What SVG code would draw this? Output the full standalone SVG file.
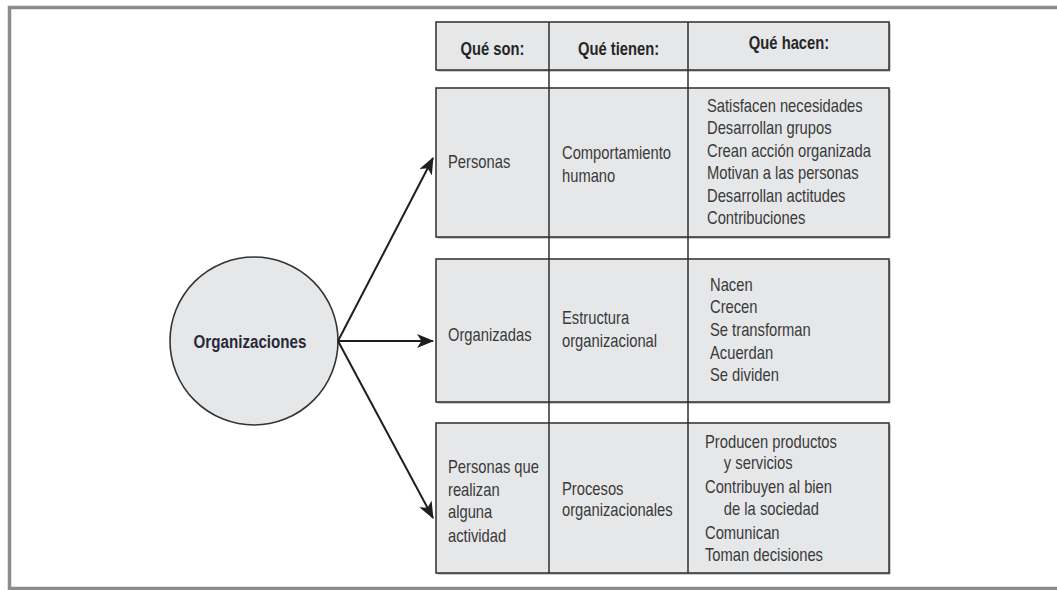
<svg xmlns="http://www.w3.org/2000/svg" width="1057" height="590" viewBox="0 0 1057 590">
  <style>
    .frame { fill: none; stroke: #8c8c8c; stroke-width: 3.5; }
    .box { fill: #e6e7e8; stroke: #3a3a3a; stroke-width: 1.6; }
    .shadow { fill: #9a9a9a; }
    .div { stroke: #2e2e2e; stroke-width: 1.5; fill: none; }
    .hd { font-family: "Liberation Sans", Arial, sans-serif; font-weight: bold; font-size: 18px; fill: #262626; text-anchor: middle; }
    .t { font-family: "Liberation Sans", Arial, sans-serif; font-size: 18px; fill: #3a3a3a; }
    .node { fill: #e6e7e8; stroke: #333; stroke-width: 1.6; }
    .nt { font-family: "Liberation Sans", Arial, sans-serif; font-weight: bold; font-size: 18.5px; fill: #262a3a; text-anchor: middle; }
    .conn { stroke: #1e1e1e; stroke-width: 2; fill: none; marker-end: url(#arrow); }
  </style>
  <defs>
    <marker id="arrow" markerUnits="userSpaceOnUse" markerWidth="20" markerHeight="16" refX="16" refY="7" orient="auto">
      <path d="M0,0 L17,7 L0,14 L4.5,7 z" fill="#1e1e1e"/>
    </marker>
  </defs>

  <rect width="1057" height="590" fill="#ffffff"/>

  <g id="frame">
    <path class="frame" d="M1060,7.5 L9.5,7.5 L9.5,588.5 L1060,588.5"/>
  </g>

  <g id="header">
    <rect class="shadow" x="437.5" y="23.5" width="453" height="48"/>
    <rect class="box" x="436" y="22" width="453" height="48"/>
    <text class="hd" transform="translate(492.5,55) scale(0.82,1)">Qué son:</text>
    <text class="hd" transform="translate(618.5,55) scale(0.82,1)">Qué tienen:</text>
    <text class="hd" transform="translate(789,49) scale(0.82,1)">Qué hacen:</text>
  </g>

  <g id="row-personas">
    <rect class="shadow" x="437.5" y="89.5" width="453" height="149"/>
    <rect class="box" x="436" y="88" width="453" height="149"/>
    <g transform="translate(448,0) scale(0.82,1)">
      <text class="t" x="0" y="168">Personas</text>
    </g>
    <g transform="translate(562,0) scale(0.82,1)">
      <text class="t" x="0" y="159">Comportamiento</text>
      <text class="t" x="0" y="182">humano</text>
    </g>
    <g transform="translate(707,0) scale(0.82,1)">
      <text class="t" x="0" y="112">Satisfacen necesidades</text>
      <text class="t" x="0" y="134.5">Desarrollan grupos</text>
      <text class="t" x="0" y="157">Crean acción organizada</text>
      <text class="t" x="0" y="179.5">Motivan a las personas</text>
      <text class="t" x="0" y="202">Desarrollan actitudes</text>
      <text class="t" x="0" y="224.5">Contribuciones</text>
    </g>
  </g>

  <g id="row-organizadas">
    <rect class="shadow" x="437.5" y="260.5" width="453" height="143"/>
    <rect class="box" x="436" y="259" width="453" height="143"/>
    <g transform="translate(448,0) scale(0.82,1)">
      <text class="t" x="0" y="341">Organizadas</text>
    </g>
    <g transform="translate(562,0) scale(0.82,1)">
      <text class="t" x="0" y="324">Estructura</text>
      <text class="t" x="0" y="347">organizacional</text>
    </g>
    <g transform="translate(710,0) scale(0.82,1)">
      <text class="t" x="0" y="291">Nacen</text>
      <text class="t" x="0" y="313">Crecen</text>
      <text class="t" x="0" y="336">Se transforman</text>
      <text class="t" x="0" y="359">Acuerdan</text>
      <text class="t" x="0" y="381">Se dividen</text>
    </g>
  </g>

  <g id="row-actividad">
    <rect class="shadow" x="437.5" y="424.5" width="453" height="150"/>
    <rect class="box" x="436" y="423" width="453" height="150"/>
    <g transform="translate(448,0) scale(0.82,1)">
      <text class="t" x="0" y="473">Personas que</text>
      <text class="t" x="0" y="496">realizan</text>
      <text class="t" x="0" y="518">alguna</text>
      <text class="t" x="0" y="542">actividad</text>
    </g>
    <g transform="translate(562,0) scale(0.82,1)">
      <text class="t" x="0" y="495">Procesos</text>
      <text class="t" x="0" y="516">organizacionales</text>
    </g>
    <g transform="translate(705,0) scale(0.82,1)">
      <text class="t" x="0" y="448">Producen productos</text>
      <text class="t" x="23" y="469">y servicios</text>
      <text class="t" x="0" y="493">Contribuyen al bien</text>
      <text class="t" x="23" y="515">de la sociedad</text>
      <text class="t" x="0" y="539">Comunican</text>
      <text class="t" x="0" y="561">Toman decisiones</text>
    </g>
  </g>

  <g id="column-dividers">
    <line class="div" x1="549" y1="22" x2="549" y2="573"/>
    <line class="div" x1="688" y1="22" x2="688" y2="573"/>
  </g>

  <g id="node-organizaciones">
    <circle class="node" cx="254" cy="341" r="84"/>
    <text class="nt" transform="translate(250,348) scale(0.82,1)">Organizaciones</text>
  </g>

  <g id="connectors">
    <line class="conn" x1="338" y1="341" x2="433" y2="158"/>
    <line class="conn" x1="338" y1="341" x2="433" y2="341"/>
    <line class="conn" x1="338" y1="341" x2="433" y2="518"/>
  </g>
</svg>
